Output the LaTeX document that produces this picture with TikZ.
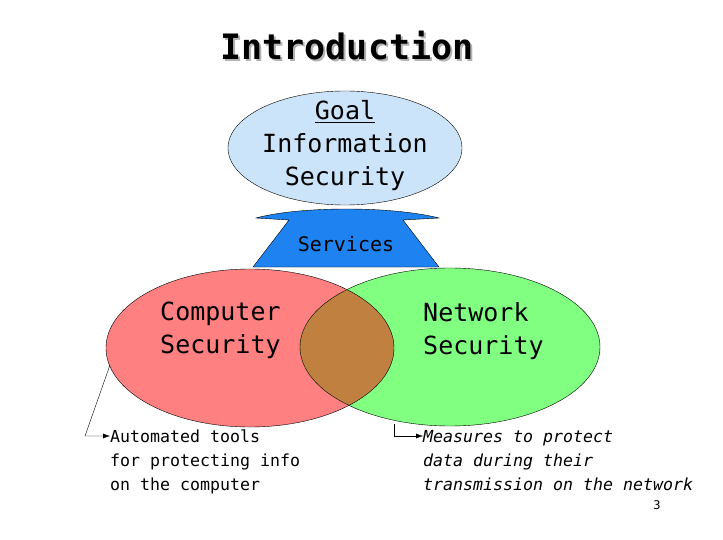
\documentclass[tikz,border=0pt]{standalone}
\usepackage{fontspec}
\setmainfont{DejaVu Sans Mono}
\usetikzlibrary{arrows.meta}
\definecolor{goalc}{RGB}{204,228,250}
\definecolor{servc}{RGB}{30,130,240}
\definecolor{redc}{RGB}{255,128,128}
\definecolor{greenc}{RGB}{128,255,128}
\definecolor{brownc}{RGB}{192,128,64}
\begin{document}
\begin{tikzpicture}[x=1pt,y=-1pt,
  txt/.style={inner sep=0pt,align=left,anchor=north west},
  big/.style={font=\fontsize{25}{33}\selectfont},
  small/.style={font=\fontsize{16.6}{24}\selectfont},
  lnk/.style={-{Latex[length=7pt,width=5pt]},thin}]
\useasboundingbox (0,0) rectangle (723,540);
% title
\node (titleshadow)[font=\bfseries\fontsize{35}{40}\selectfont,text=gray!60] at (349,48) {Introduction};
\node (title)[font=\bfseries\fontsize{35}{40}\selectfont] at (347,46) {Introduction};
% goal
\draw[fill=goalc,thin] (345,148) ellipse [x radius=117,y radius=57];
\node (goal)[big,align=center,inner sep=0pt] at (345,146) {\underline{Goal}\\Information\\Security};
% services
\draw[fill=servc,thin] (256,218) .. controls (300,206) and (392,206) .. (439,218) -- (403,220) -- (439,267) -- (253,267) -- (289,220) -- cycle;
\node (serv)[font=\fontsize{20}{24}\selectfont,inner sep=0pt] at (346,244) {Services};
% venn
\fill[redc] (250,348) ellipse [x radius=144,y radius=79];
\fill[greenc] (450,347) ellipse [x radius=150,y radius=79];
\begin{scope}
\clip (250,348) ellipse [x radius=144,y radius=79];
\fill[brownc] (450,347) ellipse [x radius=150,y radius=79];
\end{scope}
\draw[thin] (250,348) ellipse [x radius=144,y radius=79];
\draw[thin] (450,347) ellipse [x radius=150,y radius=79];
\node (cs)[txt,big] at (160,302) {Computer\\Security};
\node (ns)[txt,big] at (423,302) {Network\\Security};
\coordinate (a1) at (110,365);
\coordinate (b1) at (394,424);
\node (at)[txt,small] at (110,430) {Automated tools\\for protecting info\\on the computer};
\node (mt)[txt,small,font=\itshape\fontsize{16.6}{24}\selectfont] at (423,430) {Measures to protect\\data during their\\transmission on the network};
\draw[lnk] (a1) -- (85,436) -- (at.north west |- 0,436);
\draw[lnk] (b1) -- (394,436) -- (mt.north west |- 0,436);
\node (pg)[font=\fontsize{12}{14}\selectfont] at (657,505) {3};
\end{tikzpicture}
\end{document}
